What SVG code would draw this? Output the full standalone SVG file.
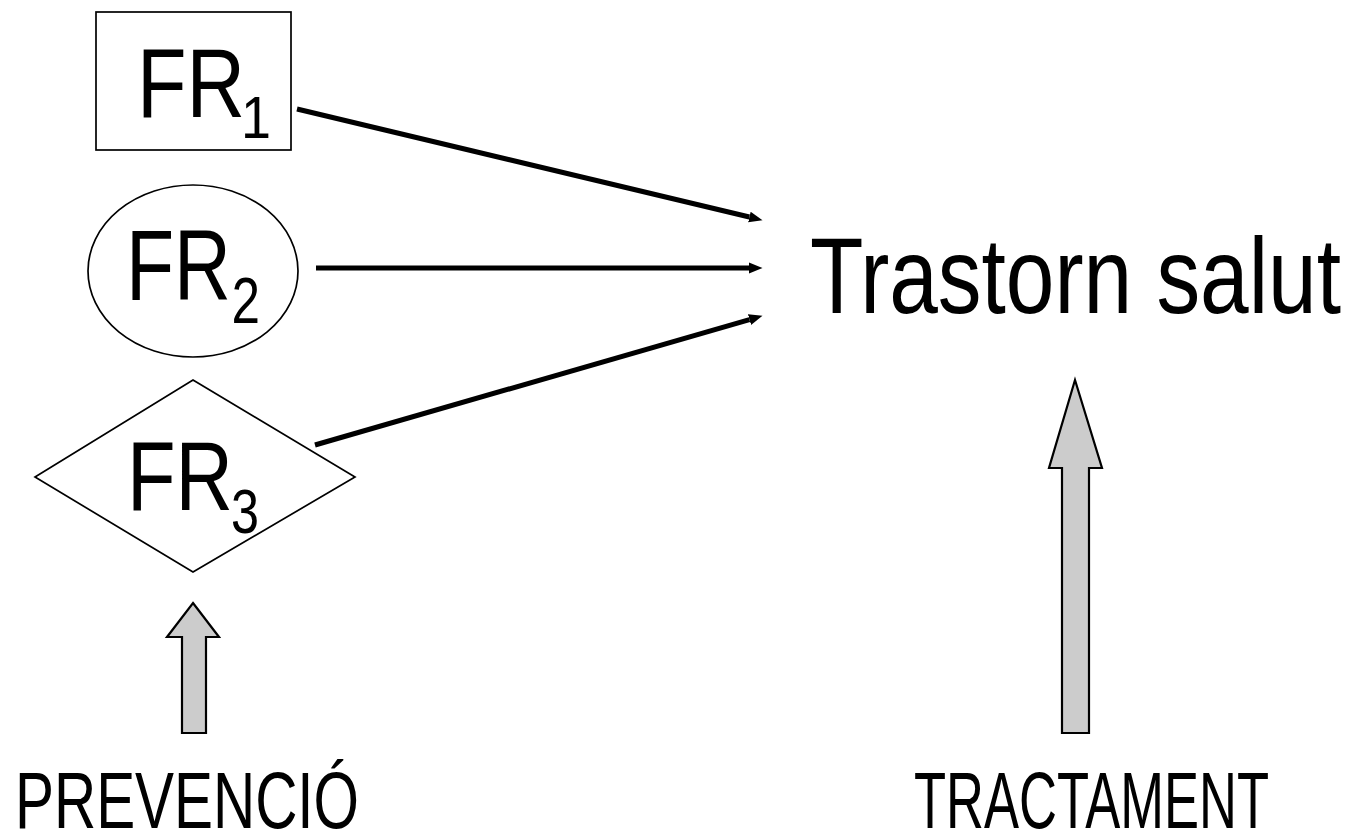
<svg xmlns="http://www.w3.org/2000/svg" width="1352" height="832" viewBox="0 0 1352 832">
<style>
.shape{fill:#ffffff;stroke:#000000;stroke-width:1.7}
.lbl{font-family:"Liberation Sans",Arial,sans-serif;fill:#000000}
.conn{stroke:#000000;stroke-width:5;fill:none}
.block{fill:#cccccc;stroke:#000000;stroke-width:2.2;stroke-linejoin:miter}
</style>
<defs>
<marker id="ah" markerUnits="userSpaceOnUse" markerWidth="14" markerHeight="12" refX="0" refY="5.5" orient="auto" viewBox="0 0 14 11">
<path d="M0,0 L13.5,5.5 L0,11 z" fill="#000000"/>
</marker>
</defs>
<rect width="1352" height="832" fill="#ffffff"/>
<g id="fr1">
<rect class="shape" x="96" y="12" width="195" height="138"/>
<text class="lbl" x="137" y="117" font-size="98" textLength="108" lengthAdjust="spacingAndGlyphs">FR</text>
<text class="lbl" x="241" y="138" font-size="60" textLength="30" lengthAdjust="spacingAndGlyphs">1</text>
</g>
<g id="fr2">
<ellipse class="shape" cx="193" cy="271" rx="105" ry="86"/>
<text class="lbl" x="126" y="300" font-size="100" textLength="105" lengthAdjust="spacingAndGlyphs">FR</text>
<text class="lbl" x="231.5" y="323" font-size="64" textLength="28.5" lengthAdjust="spacingAndGlyphs">2</text>
</g>
<g id="fr3">
<polygon class="shape" points="193,380 355,477 193,572 35,477"/>
<text class="lbl" x="127" y="510" font-size="98" textLength="106" lengthAdjust="spacingAndGlyphs">FR</text>
<text class="lbl" x="231" y="533" font-size="63" textLength="28" lengthAdjust="spacingAndGlyphs">3</text>
</g>
<g id="trastorn">
<text class="lbl" x="810" y="313" font-size="108" textLength="531" lengthAdjust="spacingAndGlyphs">Trastorn salut</text>
</g>
<g id="prevencio">
<polygon class="block" points="193,603 219,637 206,637 206,733 182,733 182,637 167,637"/>
<text class="lbl" x="15" y="828" font-size="80" textLength="344" lengthAdjust="spacingAndGlyphs">PREVENCIÓ</text>
</g>
<g id="tractament">
<polygon class="block" points="1075,380 1102,468 1089,468 1089,733 1062,733 1062,468 1049,468"/>
<text class="lbl" x="914" y="828" font-size="80" textLength="355" lengthAdjust="spacingAndGlyphs">TRACTAMENT</text>
</g>
<g id="connectors">
<line class="conn" x1="297" y1="109" x2="749.4" y2="217" marker-end="url(#ah)"/>
<line class="conn" x1="316" y1="268" x2="749" y2="268" marker-end="url(#ah)"/>
<line class="conn" x1="315" y1="445" x2="749.5" y2="319.6" marker-end="url(#ah)"/>
</g>
</svg>
